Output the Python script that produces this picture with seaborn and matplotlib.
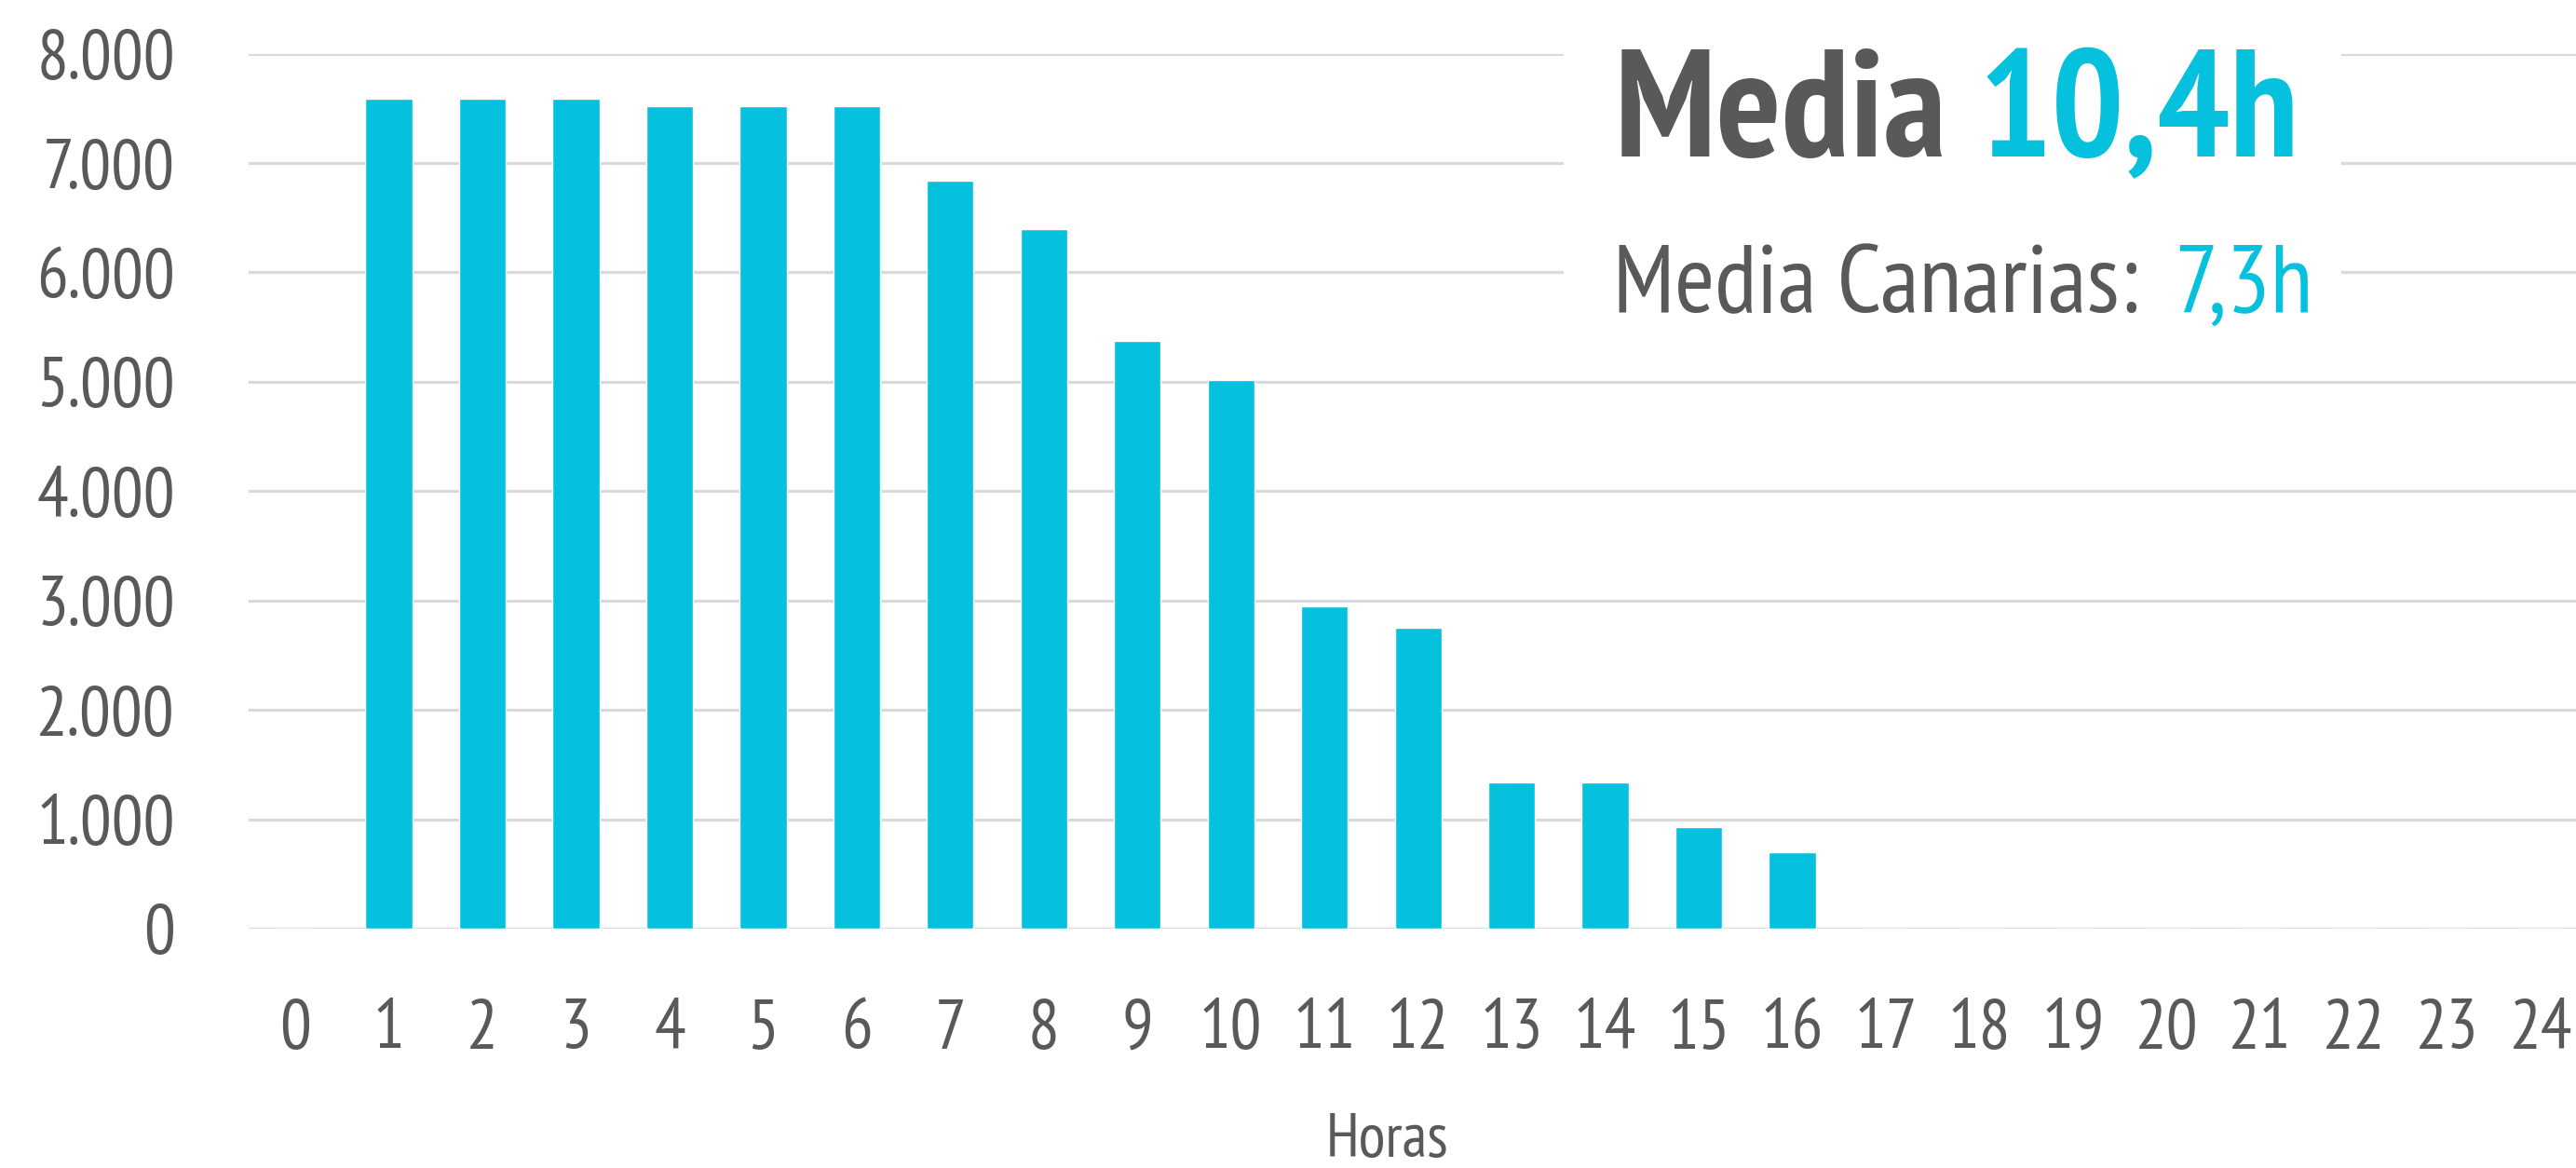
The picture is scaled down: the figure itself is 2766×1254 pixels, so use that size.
import matplotlib
matplotlib.use("Agg")
import matplotlib.pyplot as plt
import pandas as pd
import seaborn as sns
from matplotlib import font_manager
from matplotlib.patches import Rectangle

# datos: horas de duracion y numero de casos
horas = [str(h) for h in range(25)]
valores = [0, 7585, 7585, 7585, 7520, 7520, 7520, 6840, 6400, 5370, 5015,
           2950, 2750, 1340, 1340, 925, 700, 0, 0, 0, 0, 0, 0, 0, 0]
y_ticks = [0, 1000, 2000, 3000, 4000, 5000, 6000, 7000, 8000]
y_labels = ["0", "1.000", "2.000", "3.000", "4.000", "5.000", "6.000", "7.000", "8.000"]
media_txt = "10,4h"
media_canarias_txt = "7,3h"

GRIS = "#595959"
CIAN = "#05C1DE"
GRID = "#D9D9D9"


def pick_font(candidates):
    names = set(f.name for f in font_manager.fontManager.ttflist)
    for c in candidates:
        if c in names:
            return c
    return "DejaVu Sans"


def text_after(fig, prev, s, gap=0.0, **kw):
    # coloca un texto justo a la derecha de otro, en la misma linea base
    fig.canvas.draw()
    bb = prev.get_window_extent().transformed(fig.transFigure.inverted())
    x, y = prev.get_position()
    return fig.text(bb.x1 + gap, y, s, va="baseline", ha="left", **kw)


def main():
    sns.set_theme(style="white")
    fuente = pick_font(["PT Sans Narrow", "Archivo Narrow", "Asap Condensed", "Liberation Sans"])
    plt.rcParams["font.family"] = [fuente, "DejaVu Sans"]

    df = pd.DataFrame({"Horas": horas, "Valor": valores})

    fig = plt.figure(figsize=(27.66, 12.54), dpi=100)
    ax = fig.add_axes([0.0965, 0.205, 0.908, 0.749])

    sns.barplot(data=df, x="Horas", y="Valor", order=horas, color=CIAN,
                width=0.5, saturation=1, ax=ax)

    ax.set_ylim(0, 8000)
    ax.set_yticks(y_ticks)
    ax.set_yticklabels(y_labels)
    ax.set_axisbelow(True)
    ax.yaxis.grid(True, color=GRID, linewidth=2.3)
    ax.xaxis.grid(False)
    for s in ax.spines.values():
        s.set_visible(False)

    ax.tick_params(axis="x", length=0, pad=54, labelsize=54, labelcolor=GRIS)
    ax.tick_params(axis="y", length=0, pad=57, labelsize=54, labelcolor=GRIS)

    ax.set_ylabel("")
    ax.set_xlabel("Horas", fontsize=48, color=GRIS)
    ax.xaxis.label.set_va("baseline")
    ax.xaxis.set_label_coords(0.487, -0.261)

    # caja blanca que corta las lineas de la cuadricula tras el texto
    fig.patches.append(Rectangle((0.607, 0.72), 0.302, 0.252, transform=fig.transFigure,
                                 facecolor="white", edgecolor="none", zorder=2))

    t1 = fig.text(0.627, 0.866, "Media ", fontsize=118, fontweight="bold",
                  color=GRIS, va="baseline", ha="left", zorder=3)
    text_after(fig, t1, media_txt, fontsize=118, fontweight="bold", color=CIAN, zorder=3)

    t2 = fig.text(0.626, 0.733, "Media Canarias: ", fontsize=75,
                  color=GRIS, va="baseline", ha="left", zorder=3)
    text_after(fig, t2, media_canarias_txt, gap=0.0055, fontsize=75, color=CIAN, zorder=3)

    fig.savefig("out.png", dpi=100, facecolor="white")
    plt.close(fig)


if __name__ == "__main__":
    main()
